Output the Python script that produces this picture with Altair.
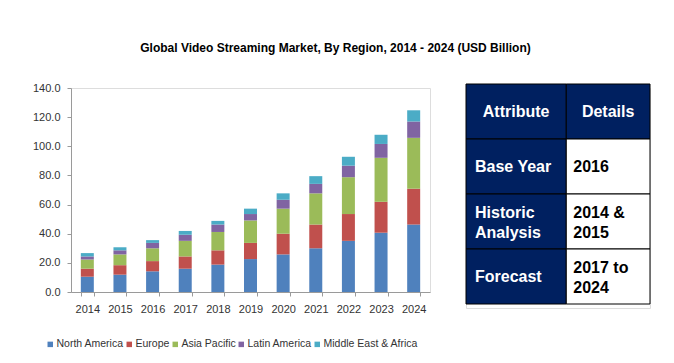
import altair as alt
import pandas as pd

FONT = "Liberation Sans"

years = ["2014", "2015", "2016", "2017", "2018", "2019", "2020", "2021", "2022", "2023", "2024"]
regions = ["North America", "Europe", "Asia Pacific", "Latin America", "Middle East & Africa"]
north_america = [10.5, 11.9, 14.2, 16.0, 18.8, 22.6, 25.8, 30.0, 35.1, 40.7, 46.3]
europe = [5.5, 6.5, 7.0, 8.4, 9.8, 11.1, 14.2, 16.3, 18.4, 21.2, 24.6]
asia_pacific = [6.3, 7.4, 8.8, 10.7, 12.6, 15.4, 17.2, 21.4, 25.3, 30.2, 34.9]
latin_america = [2.1, 2.8, 3.7, 4.2, 5.1, 4.4, 6.1, 6.5, 7.9, 9.5, 11.2]
middle_east_africa = [2.3, 2.1, 1.9, 2.6, 2.5, 3.7, 4.4, 5.3, 6.1, 6.3, 7.7]
colors = ["#4F81BD", "#C0504D", "#9BBB59", "#8064A2", "#4BACC6"]

table_attr = ["Attribute", "Base Year", "Historic\nAnalysis", "Forecast"]
table_details = ["Details", "2016", "2014 &\n2015", "2017 to\n2024"]

series = [north_america, europe, asia_pacific, latin_america, middle_east_africa]
rows = []
for ri, (reg, vals) in enumerate(zip(regions, series)):
    for y, v in zip(years, vals):
        rows.append({"year": y, "region": reg, "value": v, "ord": ri})
df = pd.DataFrame(rows)

bars = alt.Chart(df).mark_bar(size=13).encode(
    x=alt.X("year:N", sort=years, title=None,
            scale=alt.Scale(paddingInner=0.6, paddingOuter=0.3),
            axis=alt.Axis(labelAngle=0, tickBand="extent", labelFont=FONT, labelFontSize=11,
                          labelColor="#333333", domainColor="#9a9a9a", tickColor="#9a9a9a",
                          tickSize=4, labelPadding=7)),
    y=alt.Y("value:Q", title=None, stack="zero",
            scale=alt.Scale(domain=[0, 140], nice=False),
            axis=alt.Axis(values=list(range(0, 141, 20)), format=".1f", grid=False,
                          labelFont=FONT, labelFontSize=11, labelColor="#333333",
                          domainColor="#9a9a9a", tickColor="#9a9a9a", tickSize=4,
                          labelPadding=7)),
    color=alt.Color("region:N", sort=regions,
                    scale=alt.Scale(domain=regions, range=colors),
                    legend=alt.Legend(title=None, orient="none", direction="horizontal",
                                      legendX=-26, legendY=251,
                                      symbolType="square", symbolSize=30, symbolStrokeWidth=0,
                                      labelFont=FONT, labelFontSize=10.5, labelColor="#333333",
                                      columnPadding=-2, labelOffset=1, columns=5)),
    order=alt.Order("ord:Q", sort="ascending"),
).properties(width=359, height=204)

# table
COL_EDGES = [0, 0.545, 1]
trows = []
for i, (a, d) in enumerate(zip(table_attr, table_details)):
    header = i == 0
    for c, t in enumerate([a, d]):
        trows.append({"row": i, "x0": COL_EDGES[c], "x1": COL_EDGES[c + 1],
                      "xm": (COL_EDGES[c] + COL_EDGES[c + 1]) / 2, "text": t,
                      "bg": "#002060" if (header or c == 0) else "#FFFFFF",
                      "fg": "#FFFFFF" if (header or c == 0) else "#000000",
                      "header": header, "col": c, "multi": "\n" in t})
tdf = pd.DataFrame(trows)

xs = alt.Scale(domain=[0, 1], nice=False, zero=False)
ys = alt.Scale(paddingInner=0, paddingOuter=0, range=[-4, 216])
base = alt.Chart(tdf)
cells = base.mark_rect(stroke="#000000", strokeWidth=1).encode(
    x=alt.X("x0:Q", scale=xs, axis=None),
    x2="x1:Q",
    y=alt.Y("row:O", scale=ys, axis=None),
    fill=alt.Fill("bg:N", scale=None),
)


def txt(flt, xfield, align, dx, dy):
    return base.transform_filter(flt).mark_text(
        font=FONT, fontSize=16, fontWeight="bold", align=align, baseline="middle",
        lineBreak="\n", lineHeight=20, dx=dx, dy=dy).encode(
        x=alt.X(xfield, scale=xs, axis=None),
        y=alt.Y("row:O", scale=ys, axis=None),
        text="text:N",
        fill=alt.Fill("fg:N", scale=None),
    )


layers = [
    cells,
    txt("datum.header", "xm:Q", "center", 0, 0),
    txt("!datum.header && datum.col == 0 && !datum.multi", "x0:Q", "left", 9, 0),
    txt("!datum.header && datum.col == 0 && datum.multi", "x0:Q", "left", 9, -9),
    txt("!datum.header && datum.col == 1 && !datum.multi", "x0:Q", "left", 7, 0),
    txt("!datum.header && datum.col == 1 && datum.multi", "x0:Q", "left", 7, -9),
]
table = alt.layer(*layers).properties(width=184, height=220)

chart = alt.hconcat(bars, table, spacing=34).properties(
    title=alt.TitleParams("Global Video Streaming Market, By Region, 2014 - 2024 (USD Billion)",
                          font=FONT, fontSize=12, fontWeight="bold", color="#000000",
                          anchor="middle", offset=27, dx=-6),
    padding={"left": 23, "top": 33, "right": 5, "bottom": 5},
).configure_view(stroke=None).configure(background="#FFFFFF")

chart.save("out.html", embed_options={"renderer": "svg", "actions": False})
